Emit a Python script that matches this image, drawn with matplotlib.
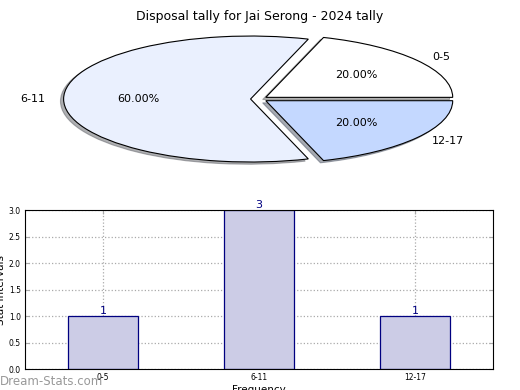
import matplotlib
matplotlib.use('Agg')
from matplotlib import pyplot as plt

# data
categories = ['0-5', '6-11', '12-17']
counts = [1, 3, 1]
pie_colors = ['#ffffff', '#eaf0fe', '#c4d8ff']
title = 'Disposal tally for Jai Serong - 2024 tally'

fig = plt.figure(figsize=(5.2, 3.9), dpi=100)
fig.patch.set_facecolor('white')

# pie, stretched into an ellipse by a wide, flat axes
axp = fig.add_axes([0.1385, 0.5846, 0.719, 0.323])
wedges, texts, autotexts = axp.pie(counts, labels=categories, colors=pie_colors,
                                   autopct='%1.2f%%', startangle=0,
                                   shadow={'ox': -0.012, 'oy': -0.025, 'shade': 0.6},
                                   explode=[0.045, 0.045, 0.045],
                                   wedgeprops={'edgecolor': 'black', 'linewidth': 0.8},
                                   textprops={'fontsize': 8})
axp.set_aspect('auto')
axp.set_xlim(-1, 1)
axp.set_ylim(-1, 1)
axp.axis('off')
fig.text(0.5, 0.975, title, ha='center', va='top', fontsize=9)

# bar chart
ax = fig.add_axes([0.048, 0.0538, 0.9, 0.4077])
x = range(len(categories))
ax.bar(x, counts, width=0.45, color='#cccce6',
       edgecolor='#000080', linewidth=0.9, zorder=2)
for i, c in zip(x, counts):
    ax.text(i, c, str(c), ha='center', va='bottom', color='#000080', fontsize=8)
ax.set_xlim(-0.5, 2.5)
ax.set_ylim(0, 3)
ax.set_xticks(list(x))
ax.set_xticklabels(categories)
ax.set_yticks([0, 0.5, 1, 1.5, 2, 2.5, 3])
ax.set_yticklabels(['0.0', '0.5', '1.0', '1.5', '2.0', '2.5', '3.0'])
ax.tick_params(labelsize=5.5, direction='in', color='#aaaaaa', length=3,
               top=True, right=True, pad=3)
ax.grid(True, linestyle=':', color='#aaaaaa', linewidth=0.9, zorder=0)
ax.set_axisbelow(True)
ax.set_ylabel('Stat Intervals', fontsize=7.5, labelpad=2)
ax.set_xlabel('Frequency', fontsize=7.5, labelpad=2)

fig.text(0.0, 0.005, 'Dream-Stats.com', color='#999999', fontsize=8.5, ha='left', va='bottom')

plt.savefig('out.png', dpi=100)
